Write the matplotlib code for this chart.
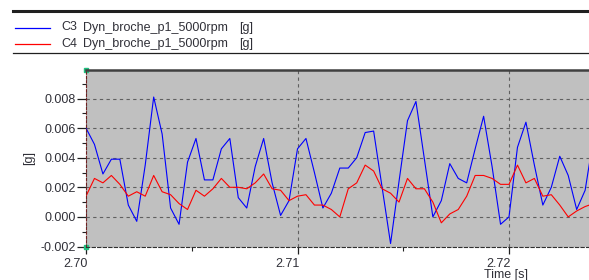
import numpy as np
import matplotlib
matplotlib.use("Agg")
import matplotlib.pyplot as plt
import matplotlib.transforms as mtransforms
from matplotlib.lines import Line2D
from matplotlib.ticker import MultipleLocator, FormatStrFormatter

plt.rcParams['font.family'] = ['Liberation Sans', 'DejaVu Sans']

# sampling of the acquisition (2500 Hz) starting at 2.70 s
t0 = 2.70
dt = 0.0004

c3 = [0.0060, 0.0049, 0.0029, 0.0039, 0.0039, 0.0008, -0.0003, 0.0035, 0.0081, 0.0056,
      0.0006, -0.0005, 0.0037, 0.0053, 0.0025, 0.0025, 0.0046, 0.0053, 0.0013, 0.0006,
      0.0034, 0.0053, 0.0023, 0.0001, 0.0011, 0.0046, 0.0053, 0.0030, 0.0006, 0.0016,
      0.0033, 0.0033, 0.0040, 0.0057, 0.0058, 0.0020, -0.0018, 0.0024, 0.0065, 0.0078,
      0.0039, 0.0000, 0.0011, 0.0036, 0.0026, 0.0023, 0.0046, 0.0068, 0.0034, -0.0005,
      0.0000, 0.0047, 0.0064, 0.0035, 0.0008, 0.0020, 0.0041, 0.0028, 0.0005, 0.0018,
      0.0054]
c4 = [0.0014, 0.0026, 0.0023, 0.0028, 0.0022, 0.0014, 0.0017, 0.0014, 0.0028, 0.0017,
      0.0015, 0.0009, 0.0005, 0.0018, 0.0014, 0.0019, 0.0026, 0.0020, 0.0020, 0.0019,
      0.0023, 0.0029, 0.0019, 0.0018, 0.0011, 0.0014, 0.0015, 0.0008, 0.0008, 0.0005,
      0.0000, 0.0019, 0.0023, 0.0035, 0.0031, 0.0019, 0.0016, 0.0010, 0.0026, 0.0019,
      0.0019, 0.0010, -0.0004, 0.0002, 0.0005, 0.0014, 0.0028, 0.0028, 0.0026, 0.0022,
      0.0022, 0.0035, 0.0023, 0.0026, 0.0014, 0.0015, 0.0008, 0.0000, 0.0004, 0.0007,
      0.0009]
labels = ['C3', 'C4']
names = ['Dyn_broche_p1_5000rpm', 'Dyn_broche_p1_5000rpm']
units = ['[g]', '[g]']
colors = ['#0000ff', '#ff0000']

t = t0 + dt * np.arange(len(c3))

W, H = 589, 280
fig = plt.figure(figsize=(W / 100, H / 100), dpi=100)
txt = '#303038'

# legend block at the top
fig.add_artist(Line2D([13 / W, 1], [1 - 10.7 / H] * 2, color='#202020', lw=2.2))
fig.add_artist(Line2D([13 / W, 1], [1 - 53.3 / H] * 2, color='#202020', lw=0.9))
for k, yy in enumerate([27.5, 44.0]):
    fig.add_artist(Line2D([15 / W, 50 / W], [1 - yy / H] * 2, color=colors[k], lw=0.9))
    fig.text(61 / W, 1 - yy / H, labels[k], fontsize=9, color=txt, va='center')
    fig.text(83 / W, 1 - yy / H, names[k], fontsize=9, color=txt, va='center')
    fig.text(239 / W, 1 - yy / H, units[k], fontsize=9, color=txt, va='center')

ax = fig.add_axes([86 / W, 1 - 246.5 / H, 1 - 86 / W, (246.5 - 69.5) / H])
ax.set_facecolor('#c0c0c0')
ax.plot(t, c3, color=colors[0], lw=0.8)
ax.plot(t, c4, color=colors[1], lw=0.8)

ax.set_xlim(2.70, 2.70 + 503 / 211.5 * 0.01)
ax.set_ylim(-0.002, 0.00996)
ax.xaxis.set_major_locator(MultipleLocator(0.01))
ax.xaxis.set_minor_locator(MultipleLocator(0.005))
ax.yaxis.set_major_locator(MultipleLocator(0.002))
ax.yaxis.set_minor_locator(MultipleLocator(0.001))
ax.xaxis.set_major_formatter(FormatStrFormatter('%.2f'))
ax.yaxis.set_major_formatter(FormatStrFormatter('%.3f'))

ax.grid(True, which='major', color='#606060', ls=(0, (3, 3)), lw=0.8)
ax.tick_params(which='major', color='#202020', width=0.9,
               labelsize=9, labelcolor=txt)
ax.tick_params(axis='y', which='major', length=6.5, pad=1)
ax.tick_params(axis='x', which='major', length=5, pad=3.5)
ax.tick_params(which='minor', length=3, width=0.8, color='#202020')

# x labels sit to the left of their tick
shift = mtransforms.ScaledTranslation(2 / 100, 0, fig.dpi_scale_trans)
for lab in ax.get_xticklabels():
    lab.set_horizontalalignment('right')
    lab.set_transform(lab.get_transform() + shift)

ax.spines['right'].set_visible(False)
ax.spines['top'].set_color('#404040')
ax.spines['top'].set_linewidth(1.8)
ax.spines['bottom'].set_linestyle((0, (3, 2)))
ax.spines['bottom'].set_color('#303030')
ax.spines['left'].set_linestyle((0, (2, 2)))
ax.spines['left'].set_color('#702020')

# cursor markers at the left corners
ax.plot([2.70, 2.70], [-0.002, 0.00996], ls='none', marker='s', ms=3,
        color='#20c080', clip_on=False)

ax.set_ylabel('[g]', fontsize=9, color=txt, labelpad=4)
fig.text(506 / W, 1 - 269 / H, 'Time [s]', fontsize=9, color=txt,
         ha='center', va='top')

fig.savefig('out.png', dpi=100)
